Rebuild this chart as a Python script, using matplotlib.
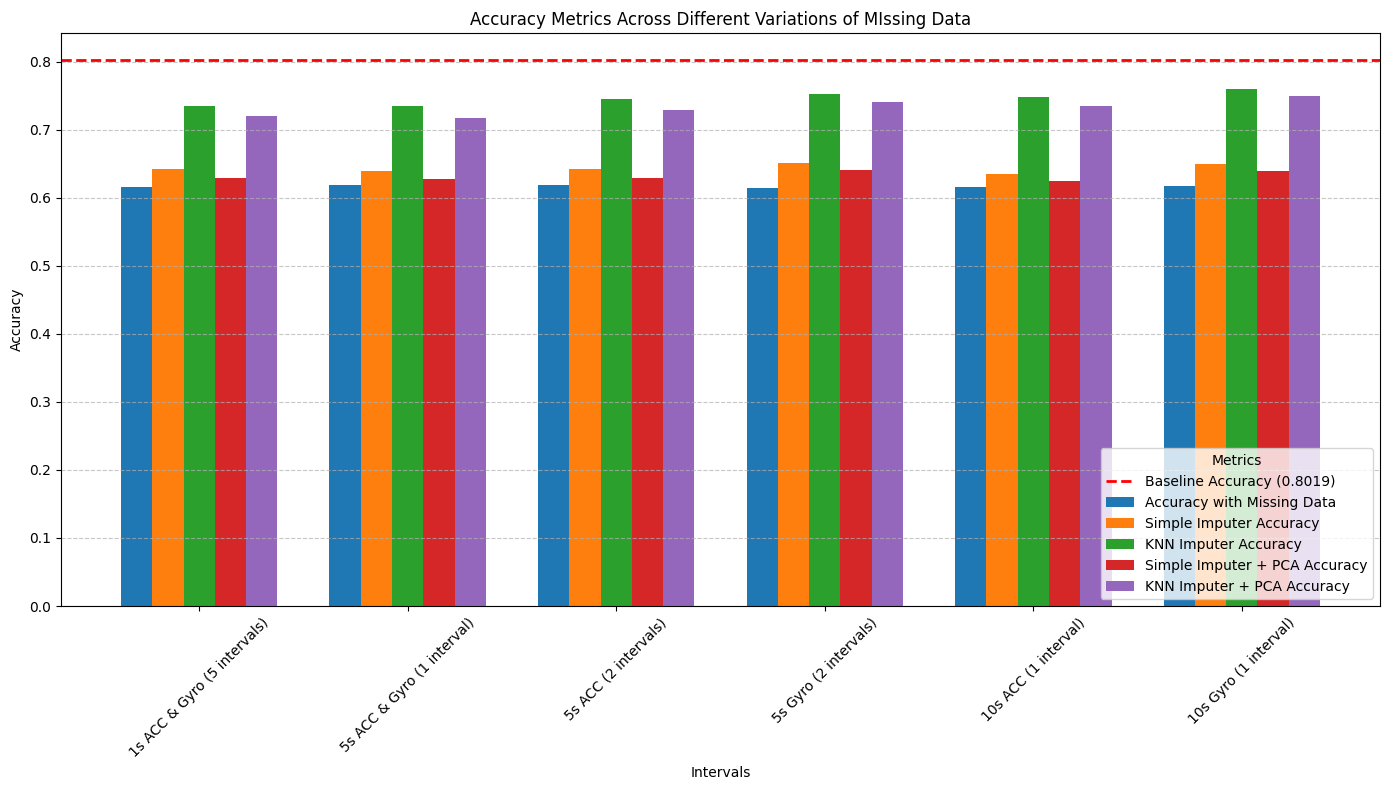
import matplotlib
matplotlib.use("Agg")
import matplotlib.pyplot as plt
import numpy as np

intervals = ["1s ACC & Gyro (5 intervals)", "5s ACC & Gyro (1 interval)", "5s ACC (2 intervals)",
             "5s Gyro (2 intervals)", "10s ACC (1 interval)", "10s Gyro (1 interval)"]
baseline = 0.8019
acc_missing = [0.6152, 0.6181, 0.6181, 0.6137, 0.6152, 0.6167]
simple_acc = [0.6417, 0.6387, 0.6417, 0.6505, 0.6343, 0.6490]
knn_acc = [0.7343, 0.7343, 0.7446, 0.7520, 0.7475, 0.7593]
simple_pca_acc = [0.6284, 0.6270, 0.6284, 0.6402, 0.6240, 0.6387]
knn_pca_acc = [0.7196, 0.7167, 0.7284, 0.7402, 0.7343, 0.7490]

series = [
    ("Accuracy with Missing Data", acc_missing),
    ("Simple Imputer Accuracy", simple_acc),
    ("KNN Imputer Accuracy", knn_acc),
    ("Simple Imputer + PCA Accuracy", simple_pca_acc),
    ("KNN Imputer + PCA Accuracy", knn_pca_acc),
]

fig, ax = plt.subplots(figsize=(13.9, 7.9), dpi=100)
x = np.arange(len(intervals))
width = 0.15
ax.axhline(baseline, color="red", linestyle="--", linewidth=2, label=f"Baseline Accuracy ({baseline})")
for i, (name, vals) in enumerate(series):
    ax.bar(x + (i - 2) * width, vals, width, label=name)
ax.set_xticks(x)
ax.set_xticklabels(intervals, rotation=45)
ax.set_xlabel("Intervals")
ax.set_ylabel("Accuracy")
ax.set_title("Accuracy Metrics Across Different Variations of MIssing Data")
ax.grid(axis="y", linestyle="--", alpha=0.7)
ax.legend(title="Metrics", loc="lower right")
fig.subplots_adjust(left=61/1390, right=1380/1390, top=1-33/790, bottom=1-606/790)
fig.savefig("out.png", dpi=100)
